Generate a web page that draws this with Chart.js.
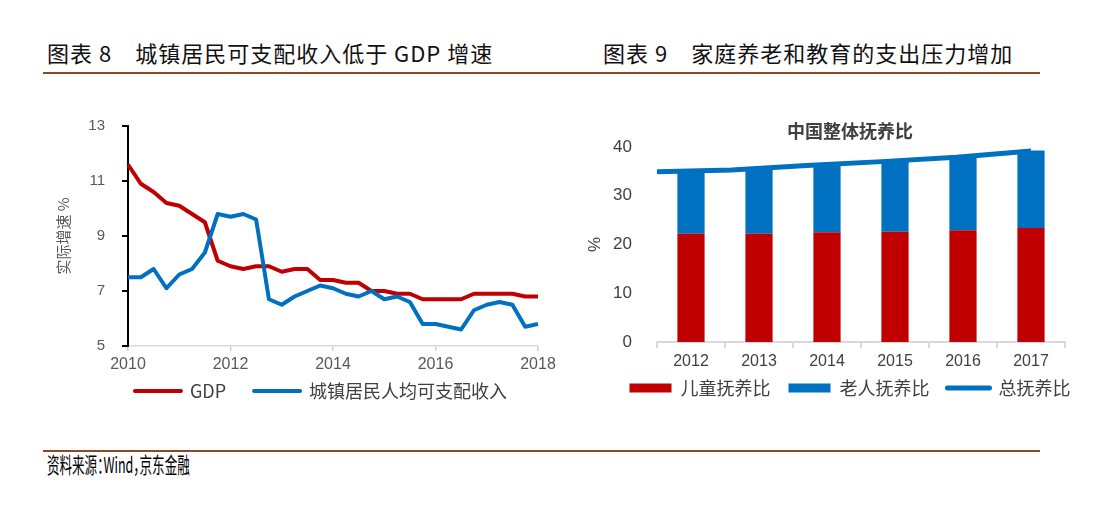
<!DOCTYPE html>
<html>
<head>
<meta charset="utf-8">
<script src="https://cdn.jsdelivr.net/npm/chart.js@4.4.1/dist/chart.umd.min.js"></script>
<style>
body { margin: 0; background: #fff; width: 1110px; height: 508px; overflow: hidden; position: relative; font-family: "Noto Sans CJK SC", sans-serif; }
.title { position: absolute; top: 36px; font-size: 22px; color: #111; white-space: pre; letter-spacing: 1px; }
.rule { position: absolute; left: 43px; width: 997px; height: 2px; background: #8b4a22; }
.source { position: absolute; left: 47px; top: 447px; font-size: 22px; color: #000; white-space: pre; font-feature-settings: "halt"; transform: scaleX(0.57); transform-origin: left center; }
canvas { position: absolute; }
</style>
</head>
<body>
<div class="title" style="left:47px">图表 8　城镇居民可支配收入低于 GDP 增速</div>
<div class="title" style="left:603px">图表 9　家庭养老和教育的支出压力增加</div>
<div class="rule" style="top:72px"></div>
<div class="rule" style="top:450px"></div>
<div class="source">资料来源：Wind，京东金融</div>
<canvas id="incomeChart" width="575" height="310" style="left:0;top:100px"></canvas>
<canvas id="ratioChart" width="535" height="310" style="left:575px;top:100px"></canvas>
<script>
// left chart: quarterly real growth, %
var quarters = [
    '2010Q1', '2010Q2', '2010Q3', '2010Q4', '2011Q1', '2011Q2', '2011Q3', '2011Q4',
    '2012Q1', '2012Q2', '2012Q3', '2012Q4', '2013Q1', '2013Q2', '2013Q3', '2013Q4',
    '2014Q1', '2014Q2', '2014Q3', '2014Q4', '2015Q1', '2015Q2', '2015Q3', '2015Q4',
    '2016Q1', '2016Q2', '2016Q3', '2016Q4', '2017Q1', '2017Q2', '2017Q3', '2017Q4',
    '2018Q1'
];
var gdpGrowth = [11.6, 10.9, 10.6, 10.2, 10.1, 9.8, 9.5, 8.1, 7.9, 7.8, 7.9, 7.9, 7.7, 7.8, 7.8, 7.4,
    7.4, 7.3, 7.3, 7.0, 7.0, 6.9, 6.9, 6.7, 6.7, 6.7, 6.7, 6.9, 6.9, 6.9, 6.9, 6.8, 6.8];
var incomeGrowth = [7.5, 7.5, 7.8, 7.1, 7.6, 7.8, 8.4, 9.8, 9.7, 9.8, 9.6, 6.7, 6.5, 6.8, 7.0, 7.2,
    7.1, 6.9, 6.8, 7.0, 6.7, 6.8, 6.6, 5.8, 5.8, 5.7, 5.6, 6.3, 6.5, 6.6, 6.5, 5.7, 5.8];

// right chart: dependency ratios, %
var years = ['2012', '2013', '2014', '2015', '2016', '2017'];
var childRatio = [22.2, 22.2, 22.5, 22.6, 22.9, 23.4];
var elderRatio = [12.7, 13.1, 13.7, 14.3, 15.0, 15.9];
var totalRatio = [34.9, 35.3, 36.2, 37.0, 37.9, 39.2];

var RED = '#c00000';
var BLUE = '#0070c0';
var CJK = '"Noto Sans CJK SC", sans-serif';

Chart.defaults.font.family = '"Liberation Sans", "Noto Sans CJK SC", sans-serif';

function legendItems(chart) {
    var items = Chart.defaults.plugins.legend.labels.generateLabels(chart);
    items.forEach(function (item) {
        var ds = chart.data.datasets[item.datasetIndex];
        item.pointStyle = (ds.type || chart.config.type) === 'bar' ? 'rect' : 'line';
        item.lineCap = 'round';
    });
    return items;
}

// empty axis, only takes up room
function spacerAxis(axis, pos, size) {
    return {
        axis: axis,
        type: 'linear',
        position: pos,
        offset: false,
        grid: { display: false, drawTicks: false },
        border: { display: false },
        ticks: { display: false },
        afterFit: function (scale) {
            if (axis === 'y') scale.width = size; else scale.height = size;
        }
    };
}

// 城镇居民可支配收入 vs GDP
var ctx = document.getElementById('incomeChart').getContext('2d');
var incomeChart = new Chart(ctx, {
    type: 'line',
    data: {
        labels: quarters,
        datasets: [{
            label: 'GDP',
            data: gdpGrowth,
            borderColor: RED,
            backgroundColor: RED,
            borderWidth: 4,
            pointRadius: 0,
            borderJoinStyle: 'round',
            yAxisID: 'y',
            order: 1
        }, {
            label: '城镇居民人均可支配收入',
            data: incomeGrowth,
            borderColor: BLUE,
            backgroundColor: BLUE,
            borderWidth: 4,
            pointRadius: 0,
            borderJoinStyle: 'round',
            yAxisID: 'y',
            order: 0
        }]
    },
    options: {
        responsive: false,
        animation: false,
        layout: { padding: { left: 85, right: 18, top: 23, bottom: 0 } },
        plugins: {
            tooltip: { enabled: false },
            legend: {
                position: 'bottom',
                title: { display: true, text: '', font: { size: 10 }, padding: { top: -33, bottom: 0 } },
                labels: {
                    usePointStyle: true,
                    pointStyleWidth: 46,
                    padding: 28,
                    color: '#404040',
                    font: { family: CJK, size: 18 },
                    generateLabels: legendItems,
                    sort: function (a, b) { return a.datasetIndex - b.datasetIndex; }
                }
            }
        },
        scales: {
            x: {
                afterFit: function (scale) { scale.height = 29; },
                border: { color: '#d9d9d9', width: 1.5 },
                grid: {
                    drawOnChartArea: false,
                    tickLength: 5,
                    lineWidth: 1.5,
                    color: function (c) { return c.index % 8 === 0 ? '#d0d0d0' : 'rgba(0,0,0,0)'; }
                },
                ticks: {
                    autoSkip: false,
                    maxRotation: 0,
                    padding: 4,
                    color: '#595959',
                    font: { size: 16 },
                    callback: function (v, i) { return i % 8 === 0 ? quarters[i].slice(0, 4) : ''; }
                }
            },
            y: {
                min: 5,
                max: 13,
                afterFit: function (scale) { scale.width = 43; },
                border: { color: '#000', width: 2 },
                grid: { drawOnChartArea: false, tickLength: 6, color: '#000', lineWidth: 2 },
                ticks: { stepSize: 2, padding: 17, color: '#595959', font: { size: 15 } },
                title: {
                    display: true,
                    text: '实际增速 %',
                    color: '#595959',
                    font: { family: CJK, size: 15 },
                    padding: { top: -31, bottom: 0 }
                }
            },
            pad: spacerAxis('y', 'right', 19)
        }
    }
});

// 中国整体抚养比
var ctx2 = document.getElementById('ratioChart').getContext('2d');
var ratioChart = new Chart(ctx2, {
    type: 'bar',
    data: {
        labels: years,
        datasets: [{
            label: '儿童抚养比',
            data: childRatio,
            backgroundColor: RED,
            borderWidth: 0,
            barPercentage: 0.4,
            categoryPercentage: 1,
            grouped: false,
            stack: 'ratio',
            xAxisID: 'x',
            yAxisID: 'y',
            order: 1
        }, {
            label: '老人抚养比',
            data: elderRatio,
            backgroundColor: BLUE,
            borderWidth: 0,
            barPercentage: 0.4,
            categoryPercentage: 1,
            grouped: false,
            stack: 'ratio',
            xAxisID: 'x',
            yAxisID: 'y',
            order: 1
        }, {
            type: 'line',
            label: '总抚养比',
            data: totalRatio.map(function (v, i) { return { x: i, y: v }; }),
            xAxisID: 'x2',
            yAxisID: 'y',
            borderColor: BLUE,
            backgroundColor: BLUE,
            borderWidth: 5,
            pointRadius: 0,
            order: 0
        }]
    },
    options: {
        responsive: false,
        animation: false,
        layout: { padding: { left: 34, right: 19, top: 10, bottom: 3 } },
        plugins: {
            tooltip: { enabled: false },
            title: {
                display: true,
                text: '中国整体抚养比',
                color: '#404040',
                font: { family: CJK, size: 18, weight: 'bold' },
                padding: { top: 10.2, bottom: 5.2 }
            },
            legend: {
                position: 'bottom',
                title: { display: true, text: '', font: { size: 10 }, padding: { top: -22, bottom: 0 } },
                labels: {
                    usePointStyle: true,
                    pointStyleWidth: 42,
                    boxHeight: 9,
                    padding: 18,
                    color: '#404040',
                    font: { family: CJK, size: 18 },
                    generateLabels: legendItems,
                    sort: function (a, b) { return a.datasetIndex - b.datasetIndex; }
                }
            }
        },
        scales: {
            x: {
                stacked: true,
                afterFit: function (scale) { scale.height = 29; },
                border: { color: '#d9d9d9', width: 2 },
                grid: { drawOnChartArea: false, offset: true, tickLength: 6, color: '#d9d9d9', lineWidth: 2 },
                ticks: { padding: 4, color: '#404040', font: { size: 16 } }
            },
            x2: Object.assign(spacerAxis('x', 'bottom', 0), { min: 0, max: 60 / 11 }),
            y: {
                stacked: true,
                min: 0,
                max: 40,
                afterFit: function (scale) { scale.width = 48; },
                border: { display: false },
                grid: { display: false, drawTicks: false },
                ticks: { stepSize: 10, padding: 25, color: '#404040', font: { size: 17 } },
                title: {
                    display: true,
                    text: '%',
                    color: '#404040',
                    font: { size: 17 },
                    padding: { top: -24.2, bottom: 0 }
                }
            },
            pad: spacerAxis('y', 'right', 26)
        }
    }
});
</script>
</body>
</html>
